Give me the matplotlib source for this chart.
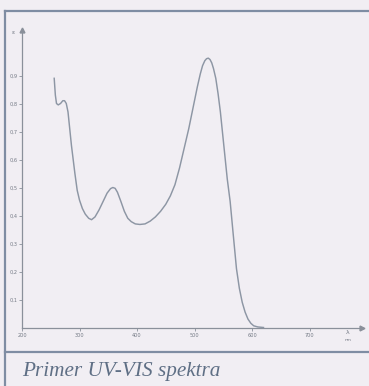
import matplotlib
matplotlib.use("Agg")
import matplotlib.pyplot as plt
from matplotlib.lines import Line2D

# ---- data ----
wavelength = [256, 258, 260, 263, 267, 271, 274, 277, 280, 283, 286, 289, 292, 296,
              300, 305, 310, 316, 321, 327, 334, 341, 348, 354, 358, 362, 366, 372, 378,
              384, 390, 397, 405, 414, 423, 432, 441, 450, 458, 466, 474, 482, 490,
              498, 505, 510, 514, 518, 521, 524, 527, 530, 533, 537, 541, 545, 549, 553, 557, 562,
              567, 573, 578, 583, 588, 593, 598, 603, 610, 620]
epsilon = [0.89, 0.83, 0.80, 0.795, 0.80, 0.81, 0.81, 0.80, 0.77, 0.71, 0.65, 0.60, 0.55, 0.49,
           0.455, 0.425, 0.405, 0.39, 0.385, 0.395, 0.42, 0.45, 0.48, 0.496, 0.50, 0.497, 0.483, 0.45, 0.415,
           0.39, 0.378, 0.37, 0.368, 0.37, 0.38, 0.395, 0.415, 0.44, 0.47, 0.51, 0.57, 0.64, 0.71,
           0.79, 0.86, 0.905, 0.935, 0.953, 0.96, 0.962, 0.957, 0.945, 0.925, 0.89, 0.835, 0.77, 0.69, 0.61, 0.53, 0.45,
           0.34, 0.21, 0.14, 0.09, 0.055, 0.03, 0.015, 0.006, 0.002, 0.0]
x_ticks = [200, 300, 400, 500, 600, 700]
x_tick_labels = ["200", "300", "400", "500", "600", "700"]
y_ticks = [0.1, 0.2, 0.3, 0.4, 0.5, 0.6, 0.7, 0.8, 0.9]
y_tick_labels = ["0,1", "0,2", "0,3", "0,4", "0,5", "0,6", "0,7", "0,8", "0,9"]
caption = "Primer UV-VIS spektra"

W, H = 369, 386
bg = "#f1eef3"
frame_c = "#7f8da3"
axis_c = "#8a909a"
curve_c = "#8d96a4"
text_c = "#747a85"

fig = plt.figure(figsize=(W / 100, H / 100), dpi=100, facecolor=bg)


def fx(px):
    return px / W


def fy(py):
    return 1 - py / H


fig.add_artist(Line2D([fx(5), fx(5)], [fy(11), fy(386)], color=frame_c, lw=1.6))
fig.add_artist(Line2D([fx(5), fx(369)], [fy(11), fy(11)], color=frame_c, lw=1.6))
fig.add_artist(Line2D([fx(5), fx(369)], [fy(352), fy(352)], color=frame_c, lw=1.6))

# axes: x 200 at px 22, 100 nm = 57.5 px ; y 0 at px 327.5, 1.0 = 280 px
left_px, right_px = 22, 362
bot_px, top_px = 327.5, 30
ax = fig.add_axes([fx(left_px), fy(bot_px), (right_px - left_px) / W, (bot_px - top_px) / H])
ax.set_facecolor("none")
x0 = 200
x1 = 200 + (right_px - left_px) / 57.5 * 100
y1 = (bot_px - top_px) / 280
ax.set_xlim(x0, x1)
ax.set_ylim(0, y1)

for s in ["top", "right"]:
    ax.spines[s].set_visible(False)
for s in ["left", "bottom"]:
    ax.spines[s].set_color(axis_c)
    ax.spines[s].set_linewidth(0.9)

ax.plot([1], [0], marker=">", color=axis_c, ms=3.5, transform=ax.transAxes, clip_on=False)
ax.plot([0], [1], marker="^", color=axis_c, ms=3.5, transform=ax.transAxes, clip_on=False)

ax.set_xticks(x_ticks)
ax.set_xticklabels(x_tick_labels)
ax.set_yticks(y_ticks)
ax.set_yticklabels(y_tick_labels)
ax.tick_params(axis="both", colors=axis_c, labelcolor=text_c, labelsize=3.6,
               length=2, width=0.6, pad=2)
ax.tick_params(axis="y", pad=1.2)

ax.plot(wavelength, epsilon, color=curve_c, lw=1.05, solid_joinstyle="round")

fig.text(fx(13), fy(33), "ε", fontsize=4.5, color=text_c, ha="center", va="center")
fig.text(fx(348), fy(333), "λ", fontsize=4.5, color=text_c, ha="center", va="center")
fig.text(fx(348), fy(340), "nm", fontsize=3.2, color=text_c, ha="center", va="center")

fig.text(fx(22), fy(376), caption, fontsize=15.3, color="#5f6f85",
         family="Liberation Serif", style="italic", ha="left", va="baseline")

fig.savefig("out.png", dpi=100, facecolor=bg)
